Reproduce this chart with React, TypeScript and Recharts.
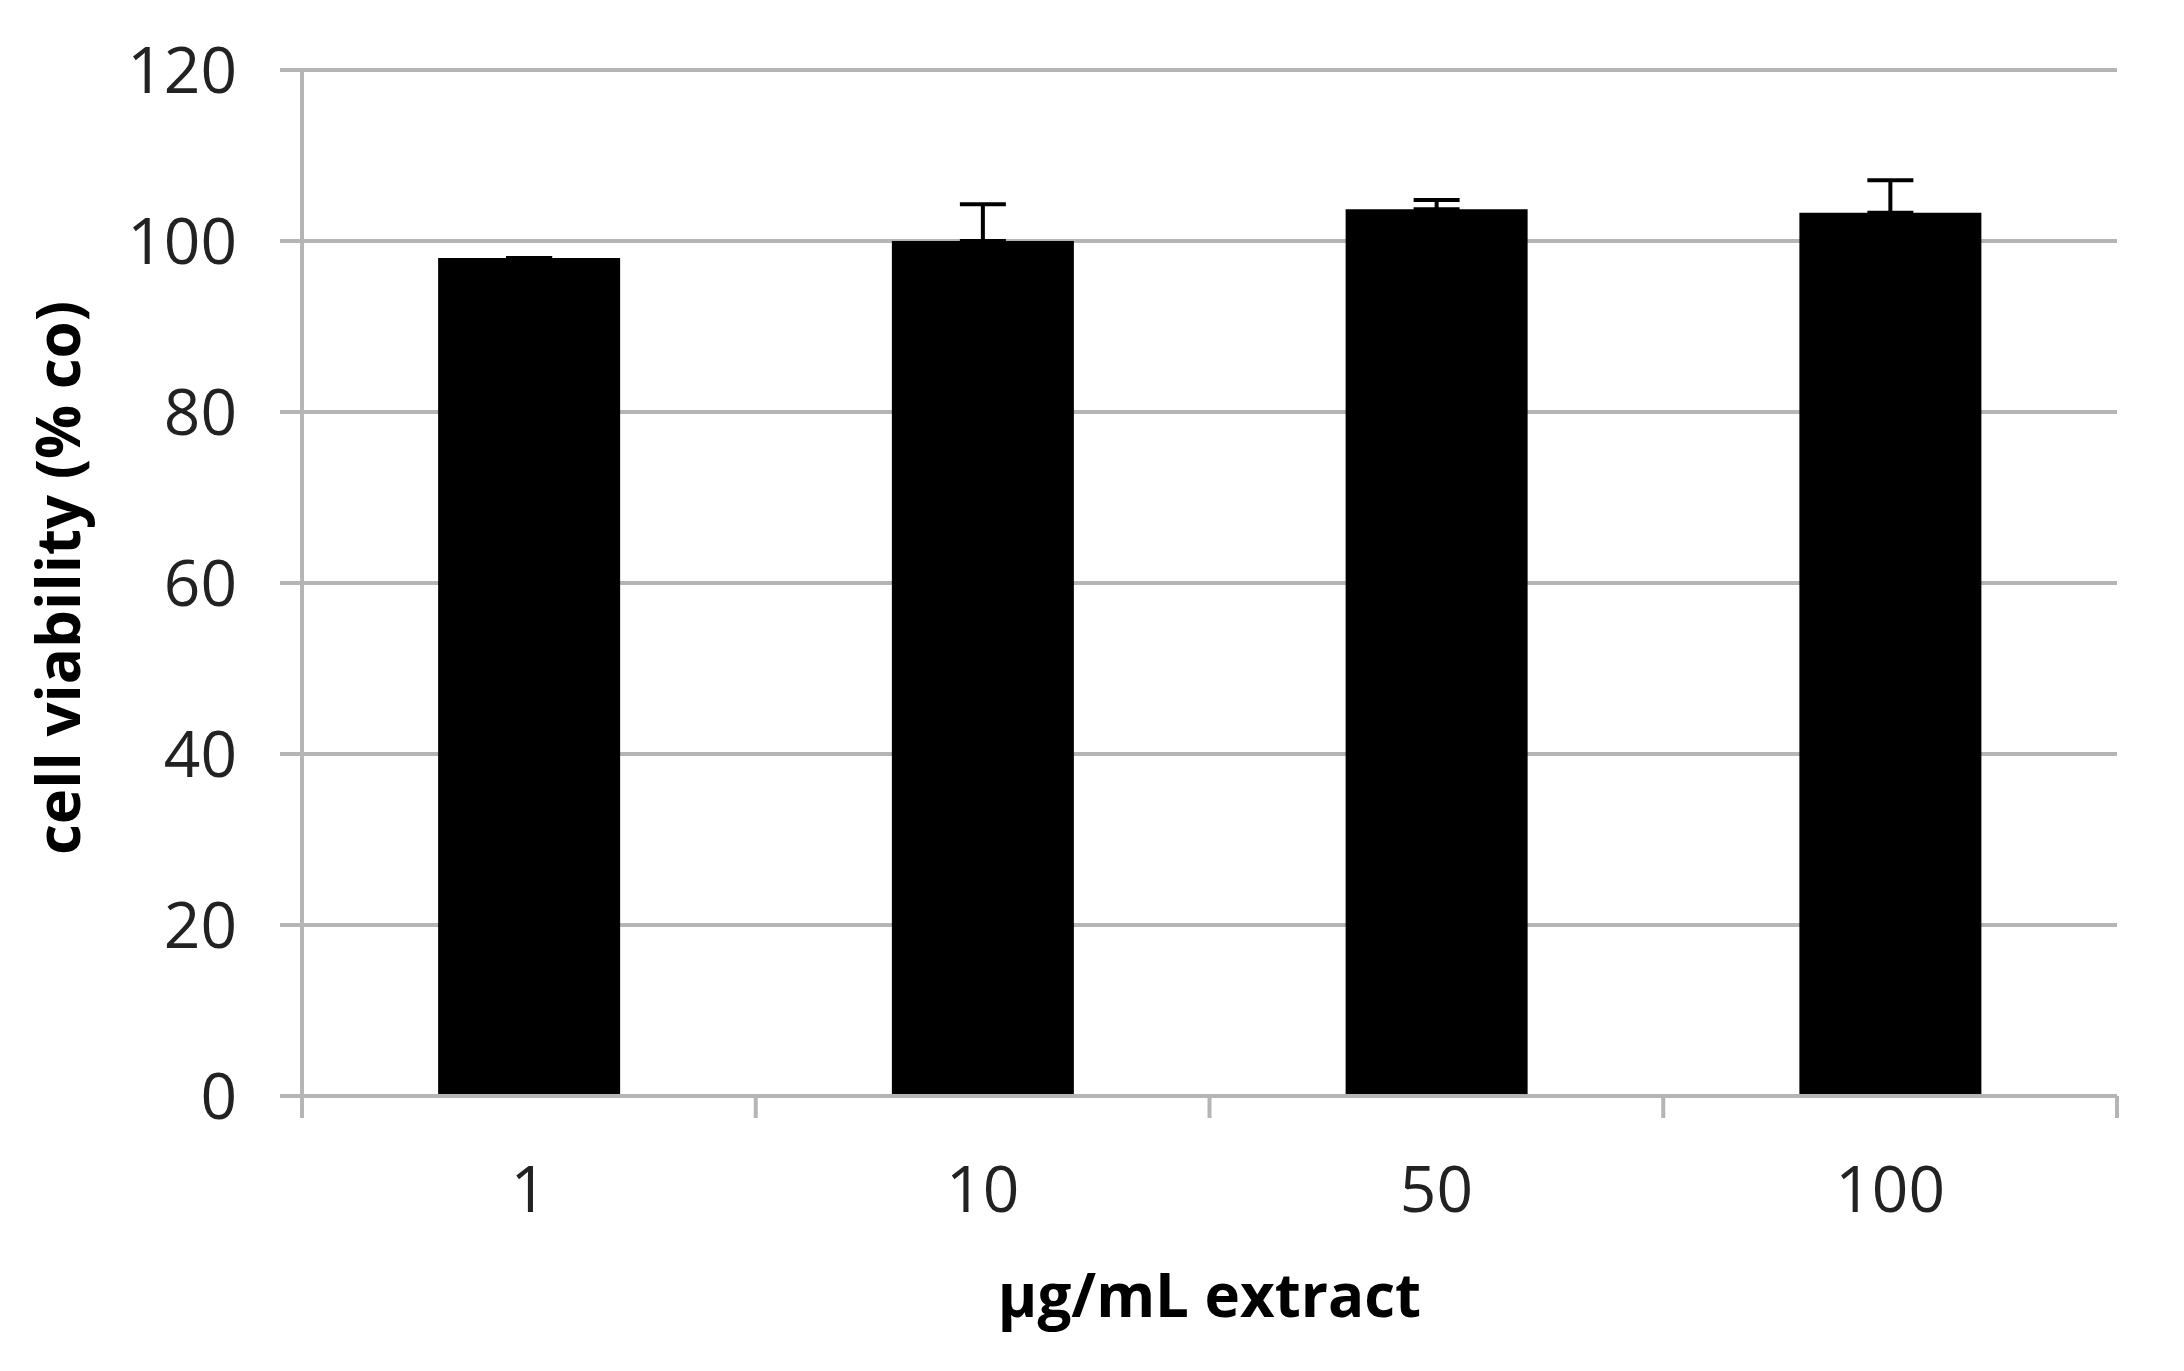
import { BarChart, Bar, XAxis, YAxis, CartesianGrid, ErrorBar, Label } from "recharts";

const concentrations = ["1", "10", "50", "100"];
const viability = [98, 100, 103.7, 103.3];
const viabilityErr = [0, 4.3, 1.1, 3.8];
const yTicks = [0, 20, 40, 60, 80, 100, 120];

const GRID = "#b5b5b5";
const FONT = "'Open Sans', sans-serif";
const W = 2168;
const H = 1355;
const MARGIN = { top: 62, right: 59, bottom: 0, left: 0 };
const Y_AXIS_W = 294;
const TICK_SIZE = 22;
const X_TICK_MARGIN = 49;

// error bars only go up, like the original
const data = concentrations.map((c, i) => ({ name: c, value: viability[i], err: [0, viabilityErr[i]] }));

// category label plus the small tick marks that sit between categories
function CatTick(props: any) {
  const { x, y, payload, index, visibleTicksCount } = props;
  const band = (W - MARGIN.left - MARGIN.right - Y_AXIS_W) / visibleTicksCount;
  const top = y - TICK_SIZE - X_TICK_MARGIN;
  const edges = [x - band / 2];
  if (index === visibleTicksCount - 1) edges.push(x + band / 2);
  return (
    <g>
      {edges.map((ex) => (
        <line key={ex} x1={ex} x2={ex} y1={top} y2={top + TICK_SIZE} stroke={GRID} strokeWidth={4} />
      ))}
      <text x={x} y={y} dy="0.71em" textAnchor="middle" fill="#222" fontSize={64} fontFamily={FONT}>
        {payload.value}
      </text>
    </g>
  );
}

export default function App() {
  return (
    <div style={{ width: W, height: H, fontFamily: FONT }}>
      <BarChart width={W} height={H} data={data} margin={MARGIN} barCategoryGap="30%">
        <CartesianGrid vertical={false} stroke={GRID} strokeWidth={4} />
        <XAxis
          dataKey="name"
          height={267}
          interval={0}
          axisLine={{ stroke: GRID, strokeWidth: 4 }}
          tickLine={false}
          tickSize={TICK_SIZE}
          tickMargin={X_TICK_MARGIN}
          tick={<CatTick />}
        >
          <Label
            content={({ viewBox }: any) => (
              <text
                x={viewBox.x + viewBox.width / 2}
                y={1309}
                textAnchor="middle"
                fontSize={60}
                fontWeight="bold"
                fontFamily={FONT}
                fill="#000"
              >
                µg/mL extract
              </text>
            )}
          />
        </XAxis>
        <YAxis
          width={Y_AXIS_W}
          domain={[0, 120]}
          ticks={yTicks}
          interval={0}
          tickSize={TICK_SIZE}
          tickMargin={43}
          axisLine={{ stroke: GRID, strokeWidth: 4 }}
          tickLine={{ stroke: GRID, strokeWidth: 4 }}
          tick={{ fill: "#222", fontSize: 64, fontFamily: FONT }}
        >
          <Label
            content={() => (
              <text
                x={72}
                y={570}
                transform="rotate(-90, 72, 570)"
                textAnchor="middle"
                fontSize={60}
                fontWeight="bold"
                fontFamily={FONT}
                fill="#000"
              >
                cell viability (% co)
              </text>
            )}
          />
        </YAxis>
        <Bar dataKey="value" fill="#000" isAnimationActive={false}>
          <ErrorBar dataKey="err" width={23} strokeWidth={4} stroke="#000" direction="y" />
        </Bar>
      </BarChart>
    </div>
  );
}
